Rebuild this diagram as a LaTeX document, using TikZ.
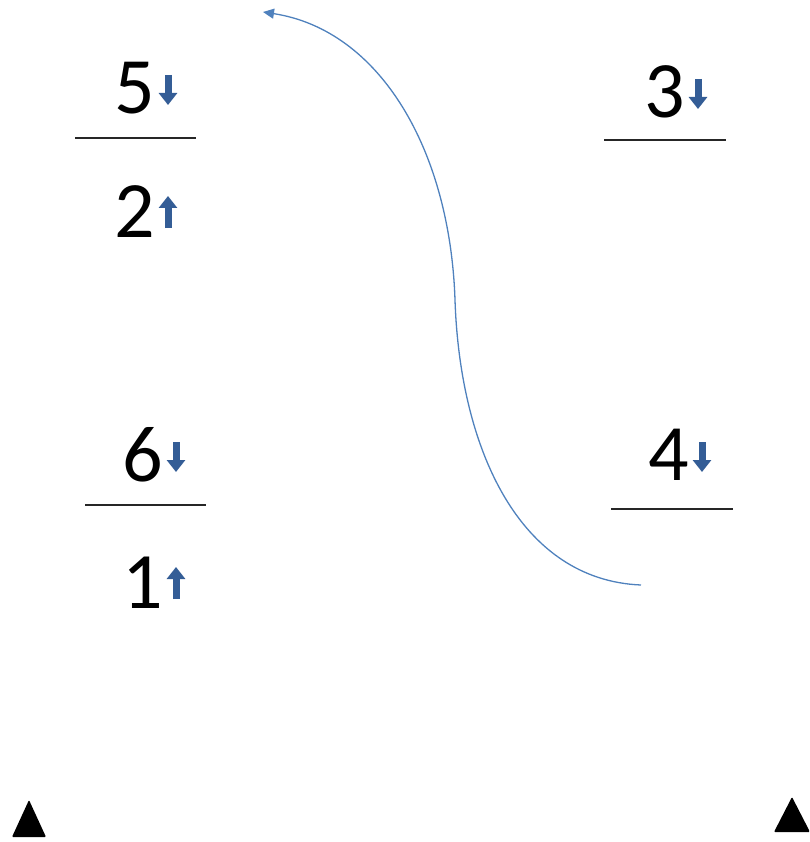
\documentclass[tikz,border=0pt]{standalone}
\usepackage{fontspec}
\setmainfont{Carlito}
\usepackage{tikz}
\usetikzlibrary{arrows.meta,positioning,calc}
\usepackage{xcolor}
\definecolor{barblue}{RGB}{52,93,150}
\definecolor{curveblue}{RGB}{79,129,189}

\begin{document}
\begin{tikzpicture}[x=1pt, y=-1pt,
    digit/.style={font=\fontsize{80}{96}\selectfont, inner sep=0pt},
    blockarr/.style={-{Triangle[length=12pt, width=18pt]}, line width=7pt, barblue},
    bar/.style={line width=1.3pt, black!85},
    swing/.style={-{Triangle[length=11pt, width=10pt]}, line width=1.3pt, curveblue}
]
\clip (0,0) rectangle (809,842);

% left column
\node[digit] (n5) at (135,88) {5};
\node[digit] (n2) at (135,212) {2};
\node[digit] (n6) at (143,455) {6};
\node[digit] (n1) at (143,583) {1};

% right column
\node[digit] (n3) at (665,92) {3};
\node[digit] (n4) at (669,455) {4};

% spin arrows
\draw[blockarr] ($(n5.center)+(33,-13)$) -- ++(0,30);
\draw[blockarr] ($(n2.center)+(33,16)$) -- ++(0,-32);
\draw[blockarr] ($(n3.center)+(33,-13)$) -- ++(0,30);
\draw[blockarr] ($(n6.center)+(33,-13)$) -- ++(0,30);
\draw[blockarr] ($(n1.center)+(33,16)$) -- ++(0,-32);
\draw[blockarr] ($(n4.center)+(33,-13)$) -- ++(0,30);

% fraction bars
\draw[bar] ($(n5.center)+(-60,50)$) -- ++(121,0);
\draw[bar] ($(n3.center)+(-61,48)$) -- ++(122,0);
\draw[bar] ($(n6.center)+(-58,50)$) -- ++(121,0);
\draw[bar] ($(n4.center)+(-58,54)$) -- ++(122,0);

% swap curve
\coordinate (from) at (641,585);
\coordinate (to) at (263,12);
\draw[swing] (from) .. controls (520,580) and (460,450) .. (455,300)
    .. controls (450,150) and (380,30) .. (to);

% markers
\fill[rounded corners=1pt] (12,837) -- (29,800) -- (46,837) -- cycle;
\fill[rounded corners=1pt] (774,832) -- (792,797) -- (810,832) -- cycle;
\end{tikzpicture}
\end{document}
